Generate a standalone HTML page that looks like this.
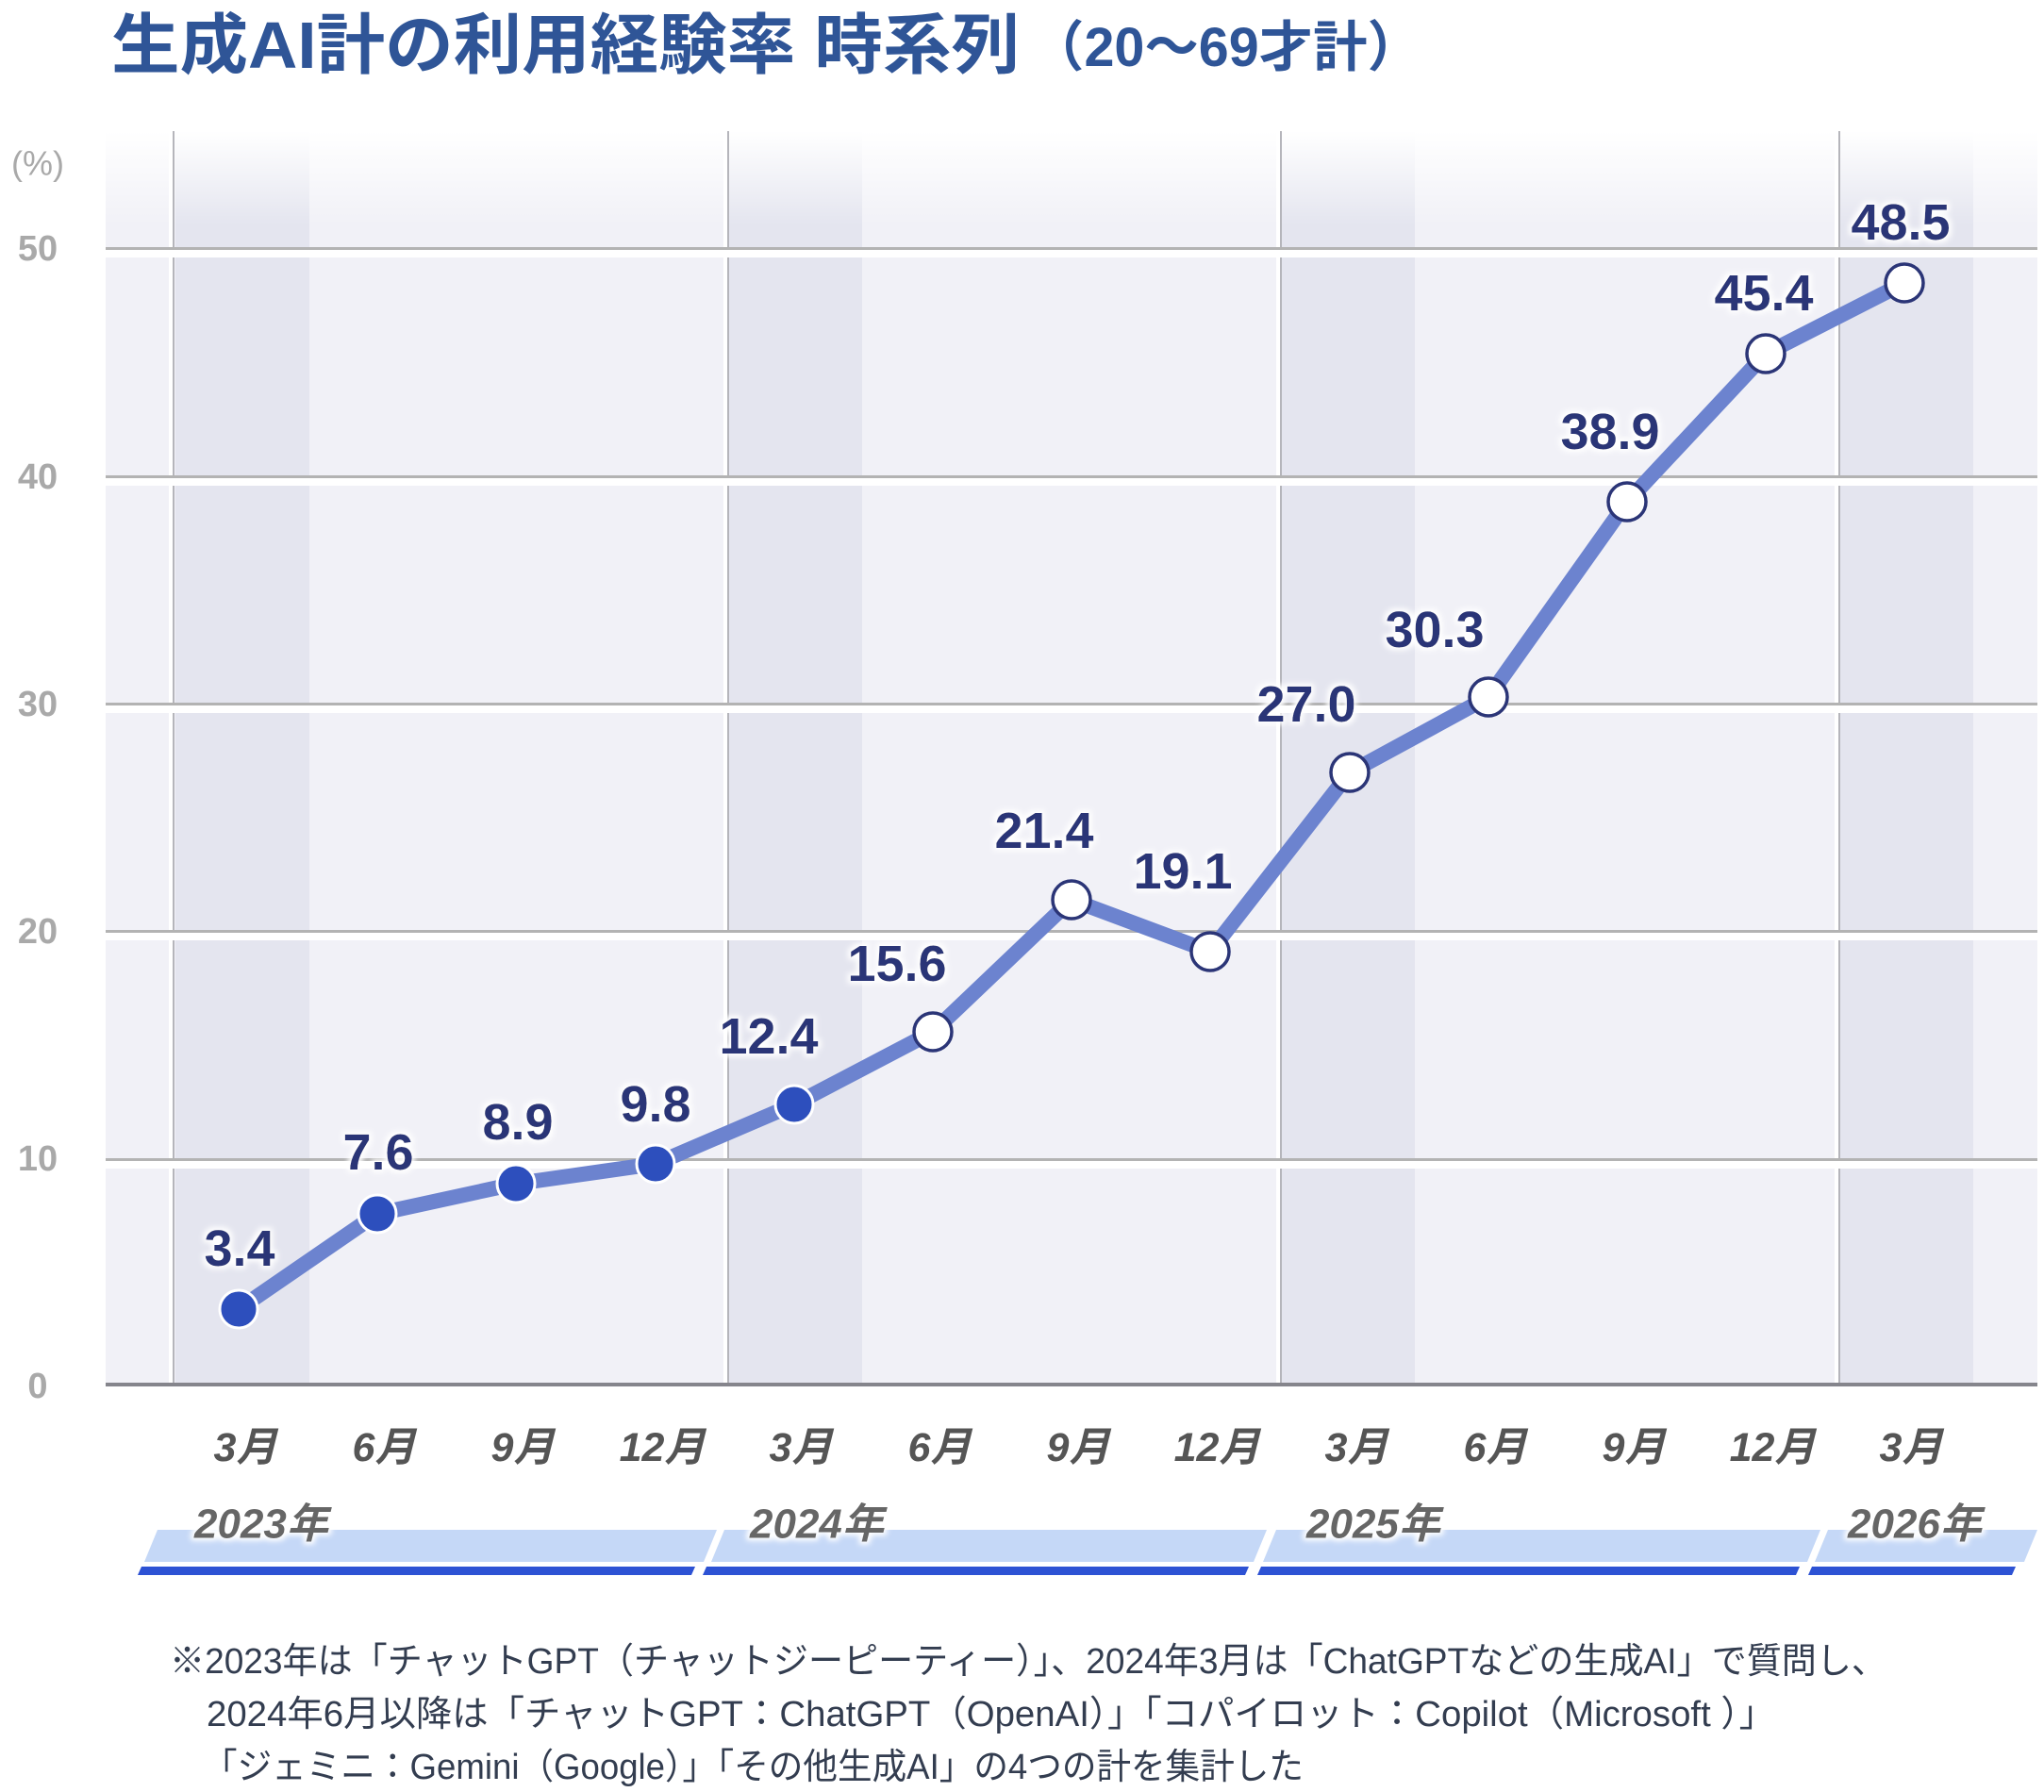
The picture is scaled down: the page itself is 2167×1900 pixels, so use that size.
<!DOCTYPE html>
<html><head><meta charset="utf-8"><style>
html,body{margin:0;padding:0;background:#fff;}
svg{display:block;}
</style></head><body>
<svg width="2167" height="1900" viewBox="0 0 2167 1900" xmlns="http://www.w3.org/2000/svg" font-family="'Liberation Sans','Noto Sans CJK JP',sans-serif">
<defs>
<linearGradient id="fade" x1="0" y1="0" x2="0" y2="1">
<stop offset="0" stop-color="#fff" stop-opacity="1"/>
<stop offset="1" stop-color="#fff" stop-opacity="0"/>
</linearGradient>
<filter id="glow" x="-20%" y="-40%" width="140%" height="180%">
<feMorphology in="SourceAlpha" operator="dilate" radius="3" result="d"/>
<feGaussianBlur in="d" stdDeviation="3" result="b"/>
<feFlood flood-color="#fff"/>
<feComposite in2="b" operator="in" result="w"/>
<feMerge><feMergeNode in="w"/><feMergeNode in="SourceGraphic"/></feMerge>
</filter>
</defs>

<text x="118" y="72" font-size="70" font-weight="bold" fill="#2f5597" textLength="963" lengthAdjust="spacingAndGlyphs">生成AI計の利用経験率 時系列</text>
<text x="1092" y="70" font-size="58" font-weight="bold" fill="#2f5597" textLength="415" lengthAdjust="spacingAndGlyphs">（20〜69才計）</text>

<rect x="112" y="139" width="2048" height="1329" fill="#f1f1f7"/>
<rect x="186" y="139" width="142" height="1329" fill="#e4e5ef"/>
<rect x="772" y="139" width="142" height="1329" fill="#e4e5ef"/>
<rect x="1358" y="139" width="142" height="1329" fill="#e4e5ef"/>
<rect x="1950" y="139" width="142" height="1329" fill="#e4e5ef"/>
<rect x="112" y="139" width="2048" height="100" fill="url(#fade)"/>

<g>
<rect x="179" y="139" width="4" height="1329" fill="#fff"/><rect x="183" y="139" width="2" height="1329" fill="#b5b5bb"/>
<rect x="767" y="139" width="4" height="1329" fill="#fff"/><rect x="771" y="139" width="2" height="1329" fill="#b5b5bb"/>
<rect x="1353" y="139" width="4" height="1329" fill="#fff"/><rect x="1357" y="139" width="2" height="1329" fill="#b5b5bb"/>
<rect x="1945" y="139" width="4" height="1329" fill="#fff"/><rect x="1949" y="139" width="2" height="1329" fill="#b5b5bb"/>
</g>

<g fill="#b3b3b3">
<rect x="112" y="265" width="2048" height="8" fill="#fff"/><rect x="112" y="262" width="2048" height="3"/>
<rect x="112" y="507" width="2048" height="8" fill="#fff"/><rect x="112" y="504" width="2048" height="3"/>
<rect x="112" y="748" width="2048" height="8" fill="#fff"/><rect x="112" y="745" width="2048" height="3"/>
<rect x="112" y="989" width="2048" height="8" fill="#fff"/><rect x="112" y="986" width="2048" height="3"/>
<rect x="112" y="1231" width="2048" height="8" fill="#fff"/><rect x="112" y="1228" width="2048" height="3"/>
</g>
<rect x="112" y="1466" width="2048" height="4" fill="#85858c"/>

<g font-size="38" font-weight="bold" fill="#a9a9a9" text-anchor="middle" dominant-baseline="central">
<text x="40" y="173" font-weight="normal" font-size="36">(%)</text>
<text x="40" y="264">50</text>
<text x="40" y="506">40</text>
<text x="40" y="747">30</text>
<text x="40" y="988">20</text>
<text x="40" y="1229">10</text>
<text x="40" y="1470">0</text>
</g>

<polyline fill="none" stroke="#6c83cf" stroke-width="16" stroke-linejoin="round" stroke-linecap="round"
points="253,1388 400,1287 547,1255 695,1234 842,1171 989,1094 1136,954 1283,1009 1431,819 1578,739 1725,532 1872,375 2019,300"/>

<g stroke="#fff" stroke-width="3" fill="#2d4fbd">
<circle cx="253" cy="1388" r="20"/>
<circle cx="400" cy="1287" r="20"/>
<circle cx="547" cy="1255" r="20"/>
<circle cx="695" cy="1234" r="20"/>
<circle cx="842" cy="1171" r="20"/>
</g>
<g stroke="#2b3577" stroke-width="3.5" fill="#fff">
<circle cx="989" cy="1094" r="20"/>
<circle cx="1136" cy="954" r="20"/>
<circle cx="1283" cy="1009" r="20"/>
<circle cx="1431" cy="819" r="20"/>
<circle cx="1578" cy="739" r="20"/>
<circle cx="1725" cy="532" r="20"/>
<circle cx="1872" cy="375" r="20"/>
<circle cx="2019" cy="300" r="20"/>
</g>

<g font-size="54" font-weight="bold" fill="#2b3577" text-anchor="middle" dominant-baseline="central" filter="url(#glow)">
<text x="254" y="1324">3.4</text>
<text x="401" y="1222">7.6</text>
<text x="549" y="1190">8.9</text>
<text x="695" y="1171">9.8</text>
<text x="815" y="1099">12.4</text>
<text x="951" y="1022">15.6</text>
<text x="1107" y="881">21.4</text>
<text x="1254" y="924">19.1</text>
<text x="1385" y="747">27.0</text>
<text x="1521" y="668">30.3</text>
<text x="1707" y="458">38.9</text>
<text x="1870" y="311">45.4</text>
<text x="2015" y="236">48.5</text>
</g>

<g font-size="43" font-weight="bold" font-style="italic" fill="#555" text-anchor="middle" dominant-baseline="central">
<text x="260" y="1535">3月</text>
<text x="407" y="1535">6月</text>
<text x="554" y="1535">9月</text>
<text x="702" y="1535">12月</text>
<text x="849" y="1535">3月</text>
<text x="996" y="1535">6月</text>
<text x="1143" y="1535">9月</text>
<text x="1290" y="1535">12月</text>
<text x="1438" y="1535">3月</text>
<text x="1585" y="1535">6月</text>
<text x="1732" y="1535">9月</text>
<text x="1879" y="1535">12月</text>
<text x="2026" y="1535">3月</text>
</g>

<g fill="#c5d8f7">
<polygon points="167,1622 760,1622 746,1656 153,1656"/>
<polygon points="768,1622 1343,1622 1329,1656 754,1656"/>
<polygon points="1353,1622 1930,1622 1916,1656 1339,1656"/>
<polygon points="1938,1622 2160,1622 2146,1656 1924,1656"/>
</g>
<g fill="#2d52d4">
<polygon points="150,1661 737,1661 733,1670 146,1670"/>
<polygon points="749,1661 1324,1661 1320,1670 745,1670"/>
<polygon points="1337,1661 1908,1661 1904,1670 1333,1670"/>
<polygon points="1921,1661 2137,1661 2133,1670 1917,1670"/>
</g>
<g font-size="44" font-weight="bold" font-style="italic" fill="#666" dominant-baseline="central" filter="url(#glow)">
<text x="206" y="1616">2023年</text>
<text x="795" y="1616">2024年</text>
<text x="1385" y="1616">2025年</text>
<text x="1959" y="1616">2026年</text>
</g>

<g font-size="38" fill="#333d50" dominant-baseline="central">
<text x="180" y="1762" textLength="1820" lengthAdjust="spacingAndGlyphs">※2023年は「チャットGPT（チャットジーピーティー）」、2024年3月は「ChatGPTなどの生成AI」で質問し、</text>
<text x="219" y="1818" textLength="1663" lengthAdjust="spacingAndGlyphs">2024年6月以降は「チャットGPT：ChatGPT（OpenAI）」「コパイロット：Copilot（Microsoft ）」</text>
<text x="215" y="1874" textLength="1167" lengthAdjust="spacingAndGlyphs">「ジェミニ：Gemini（Google）」「その他生成AI」の4つの計を集計した</text>
</g>
</svg>
</body></html>
